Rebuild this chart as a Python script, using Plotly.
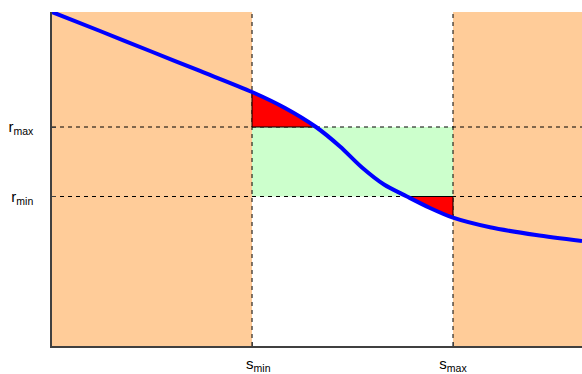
import plotly.graph_objects as go

# Curve knots (x, y) in data units (x: 0..1, y: 0..1)
curve_x = [0.0, 0.0906, 0.1849, 0.2792, 0.3774, 0.4396, 0.4981, 0.5434, 0.5849,
           0.6264, 0.6698, 0.7132, 0.7566, 0.8264, 0.9132, 1.0]
curve_y = [1.0, 0.9431, 0.8832, 0.8234, 0.7605, 0.7126, 0.6557, 0.5973, 0.5344,
           0.4835, 0.4476, 0.4132, 0.3841, 0.3554, 0.3323, 0.3144]

s_min, s_max = 0.3774, 0.7566
r_min, r_max = 0.4476, 0.6557
tick_s = ["&nbsp;&nbsp;&nbsp;s<sub>min</sub>", "s<sub>max</sub>"]
tick_r = ["r<sub>min</sub>", "r<sub>max</sub>"]

fig = go.Figure()

# red region 1: between curve and r_max from s_min to crossing
i0 = curve_x.index(s_min)
i1 = curve_y.index(r_max)
r1x = [s_min] + curve_x[i0:i1 + 1] + [s_min]
r1y = [r_max] + curve_y[i0:i1 + 1] + [r_max]
# red region 2: between r_min and curve from crossing to s_max
j0 = curve_y.index(r_min)
j1 = curve_x.index(s_max)
r2x = curve_x[j0:j1 + 1] + [s_max, curve_x[j0]]
r2y = curve_y[j0:j1 + 1] + [r_min, r_min]

for rx, ry in [(r1x, r1y), (r2x, r2y)]:
    fig.add_trace(go.Scatter(x=rx, y=ry, mode="lines", fill="toself",
                             fillcolor="#FF0000", line=dict(color="black", width=1),
                             hoverinfo="skip", showlegend=False))

fig.add_trace(go.Scatter(x=curve_x, y=curve_y, mode="lines",
                         line=dict(color="#0000FF", width=4, shape="spline", smoothing=0.8),
                         hoverinfo="skip", showlegend=False))

shapes = [
    dict(type="rect", xref="x", yref="y", x0=0, x1=s_min, y0=0, y1=1, fillcolor="#FFCC99", line_width=0, layer="below"),
    dict(type="rect", xref="x", yref="y", x0=s_max, x1=1, y0=0, y1=1, fillcolor="#FFCC99", line_width=0, layer="below"),
    dict(type="rect", xref="x", yref="y", x0=s_min, x1=s_max, y0=r_min, y1=r_max, fillcolor="#CCFFCC", line_width=0, layer="below"),
]
for sx in [s_min, s_max]:
    shapes.append(dict(type="line", xref="x", yref="y", x0=sx, x1=sx, y0=0, y1=1,
                       line=dict(color="black", width=1, dash="4px,4px"), layer="below"))
for ry in [r_min, r_max]:
    shapes.append(dict(type="line", xref="x", yref="y", x0=0, x1=1, y0=ry, y1=ry,
                       line=dict(color="black", width=1, dash="4px,4px"), layer="below"))

fig.update_layout(
    width=582, height=374,
    margin=dict(l=52, r=0, t=12, b=28),
    plot_bgcolor="white", paper_bgcolor="white",
    shapes=shapes,
    font=dict(family="Liberation Sans, Arial, sans-serif", size=15, color="black"),
    xaxis=dict(range=[0, 1], tickvals=[s_min, s_max], ticktext=tick_s, showgrid=False,
               zeroline=False, showline=True, linecolor="#404040", linewidth=1.5,
               ticks="inside", ticklen=4, tickcolor="#404040", ticklabelstandoff=3,
               automargin=False),
    yaxis=dict(range=[0, 1], tickvals=[r_min, r_max], ticktext=tick_r, showgrid=False,
               zeroline=False, showline=True, linecolor="#404040", linewidth=1.5,
               ticks="inside", ticklen=4, tickcolor="#404040", ticklabelstandoff=14,
               automargin=False),
)

fig.write_html("out.html", config={"displayModeBar": False},
               post_script="document.body.style.margin='0px';document.body.style.overflow='hidden';")
